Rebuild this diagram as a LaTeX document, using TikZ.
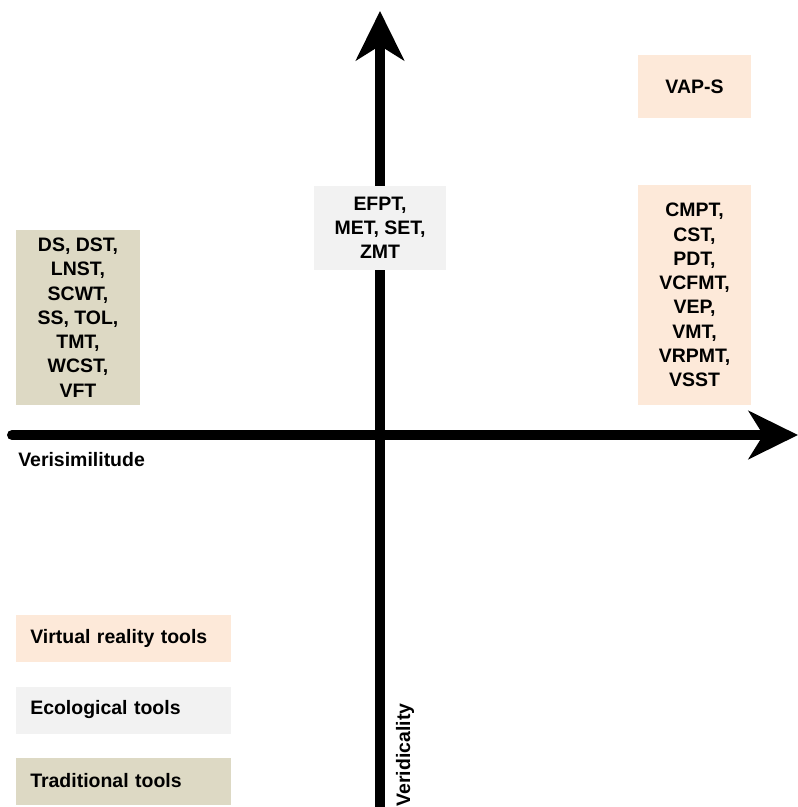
\documentclass[tikz,border=0pt]{standalone}
\usepackage{fontspec}
\setmainfont{Liberation Sans}
\usetikzlibrary{arrows.meta}
\definecolor{vrtools}{HTML}{FDE9D9}
\definecolor{ecotools}{HTML}{F2F2F2}
\definecolor{tradtools}{HTML}{DDD9C4}
\tikzset{
  axis/.style={line width=7.5pt,-{Stealth[length=37pt,width=36pt,inset=11pt]}},
  toolbox/.style={align=center,inner sep=0pt,font=\fontsize{14.6}{18.2}\selectfont\bfseries},
  legendbox/.style={anchor=west,align=left,text width=140.25pt,inner xsep=10.5pt,inner ysep=0pt,
    minimum height=35.25pt,font=\fontsize{14.6}{18}\selectfont\bfseries}
}
\begin{document}
\begin{tikzpicture}[x=0.75pt,y=-0.75pt]
  \useasboundingbox (0,0) rectangle (798,807);
  % axes
  \coordinate (xstart) at (12,435);
  \coordinate (xend) at (798,435);
  \coordinate (ystart) at (380,812);
  \coordinate (yend) at (380,11);
  \draw[axis,line cap=round] (xstart) -- (xend);
  \draw[axis] (ystart) -- (yend);
  \node[anchor=west,font=\fontsize{14.6}{18}\selectfont\bfseries,inner sep=0pt] (xlabel) at (18,460) {Verisimilitude};
  \node[rotate=90,font=\fontsize{14.6}{18}\selectfont\bfseries,inner sep=0pt] (ylabel) at (405,755) {Veridicality};
  % tool groups
  \node[toolbox,fill=tradtools,minimum width=93pt,minimum height=131.25pt] (trad) at (78,317.5)
    {DS, DST,\\LNST,\\SCWT,\\SS, TOL,\\TMT,\\WCST,\\VFT};
  \node[toolbox,fill=ecotools,minimum width=99pt,minimum height=63pt] (eco) at (380,228)
    {EFPT,\\MET, SET,\\ZMT};
  \node[toolbox,fill=vrtools,minimum width=84.75pt,minimum height=47.25pt] (vaps) at (694.5,86.5)
    {VAP-S};
  \node[toolbox,fill=vrtools,minimum width=84.75pt,minimum height=165pt] (vr) at (694.5,295)
    {CMPT,\\CST,\\PDT,\\VCFMT,\\VEP,\\VMT,\\VRPMT,\\VSST};
  % legend
  \node[legendbox,fill=vrtools] (legvr) at (16,638.5) {Virtual reality tools};
  \node[legendbox,fill=ecotools] (legeco) at (16,710) {Ecological tools};
  \node[legendbox,fill=tradtools] (legtrad) at (16,781) {Traditional tools};
\end{tikzpicture}
\end{document}
